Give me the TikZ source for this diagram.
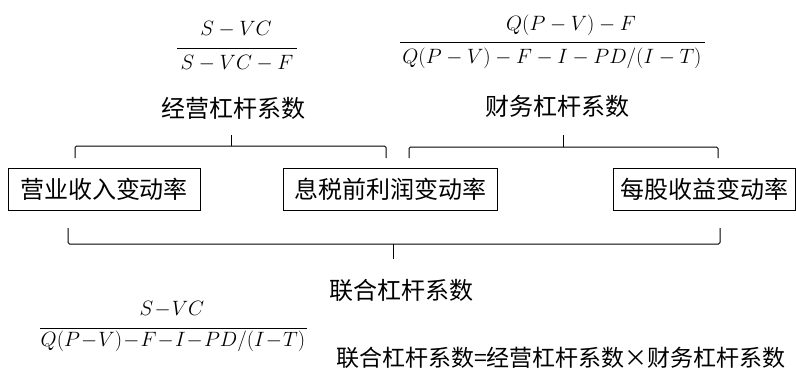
\documentclass[tikz,border=0pt]{standalone}
\usepackage{fontspec}
\newfontfamily\cjk{Noto Sans CJK SC}
\newcommand{\tightmath}{\medmuskip=1mu\relax}
\begin{document}
\begin{tikzpicture}[x=1pt,y=-1pt,
  lbl/.style={font=\cjk\fontsize{24}{28}\selectfont, inner sep=0pt},
  eqlbl/.style={font=\cjk\fontsize{23}{27}\selectfont, inner sep=0pt},
  box/.style={draw, line width=1pt, minimum height=42pt, inner sep=0pt, font=\cjk\fontsize{24}{28}\selectfont},
  mth/.style={font=\fontsize{22}{26}\selectfont, inner sep=0pt},
  brace/.style={line width=1pt, rounded corners=1.5pt},
  bar/.style={line width=1pt}]
\path[use as bounding box] (0,0) rectangle (796,372);

% operating leverage fraction
\node[mth] (n1) at (236,29) {$S-VC$};
\node[mth] (d1) at (237,63) {$S-VC-F$};
\coordinate (b1l) at (177,48); \coordinate (b1r) at (297,48);
\draw[bar] (b1l) -- (b1r);
\node[lbl] (dol) at (233,108) {经营杠杆系数};

% financial leverage fraction
\node[mth] (n2) at (571,25) {$Q(P-V)-F$};
\node[mth] (d2) at (552,58) {$Q(P-V)-F-I-PD/(I-T)$};
\coordinate (b2l) at (400,42); \coordinate (b2r) at (705,42);
\draw[bar] (b2l) -- (b2r);
\node[lbl] (dfl) at (557,106) {财务杠杆系数};

% boxes
\node[box, minimum width=192pt] (sales) at (104,189) {营业收入变动率};
\node[box, minimum width=214pt] (ebit) at (390,189) {息税前利润变动率};
\node[box, minimum width=182pt] (eps) at (704,189) {每股收益变动率};

% brace 1
\coordinate (t1l) at (75,158); \coordinate (t1r) at (386,158);
\coordinate (t1m) at (231,146); \coordinate (t1t) at (231,135);
\draw[brace] (t1l) |- (t1m) -| (t1r);
\draw[bar] (t1m) -- (t1t);

% brace 2
\coordinate (t2l) at (409,158); \coordinate (t2r) at (718,158);
\coordinate (t2m) at (563,147); \coordinate (t2t) at (563,135);
\draw[brace] (t2l) |- (t2m) -| (t2r);
\draw[bar] (t2m) -- (t2t);

% bottom brace
\coordinate (bl) at (68,228); \coordinate (br) at (720,228);
\coordinate (bm) at (393,244); \coordinate (bt) at (393,259);
\draw[brace] (bl) |- (bm) -| (br);
\draw[bar] (bm) -- (bt);

\node[lbl] (dtl) at (401,290) {联合杠杆系数};

% combined leverage fraction
\node[mth] (n3) at (172,309) {$\tightmath S-VC$};
\node[mth] (d3) at (173,341) {$\tightmath Q(P-V)-F-I-PD/(I-T)$};
\coordinate (b3l) at (40,328); \coordinate (b3r) at (307,328);
\draw[bar] (b3l) -- (b3r);

\node[eqlbl] (eq) at (561,358) {联合杠杆系数=经营杠杆系数×财务杠杆系数};
\end{tikzpicture}
\end{document}
